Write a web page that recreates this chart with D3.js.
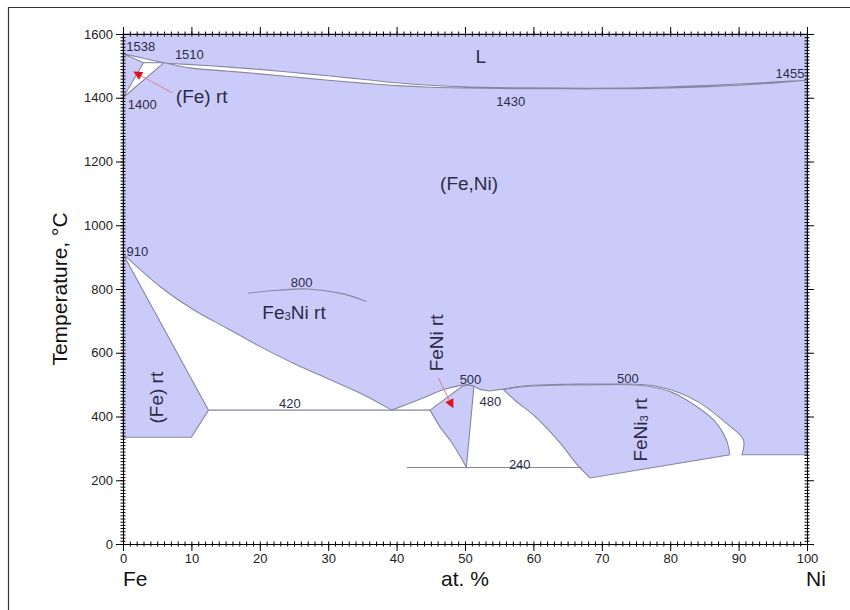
<!DOCTYPE html>
<html>
<head>
<meta charset="utf-8">
<script src="https://cdn.jsdelivr.net/npm/d3@7"></script>
<style>
  body { margin: 0; background: #fff; }
  svg { display: block; }
  text { font-family: "Liberation Sans", Arial, sans-serif; }
</style>
</head>
<body>
<svg id="chart" width="850" height="610"></svg>
<script>
// Fe–Ni phase diagram: composition in at.% Ni, temperature in °C.

const xTicks = [0, 10, 20, 30, 40, 50, 60, 70, 80, 90, 100];
const yTicks = [0, 200, 400, 600, 800, 1000, 1200, 1400, 1600];

// Liquid / (Fe,Ni) two-phase lens
const liquidus = [[0, 1538], [3, 1524], [6, 1510], [10, 1504], [15, 1497], [20, 1489], [25, 1479], [30, 1469],
  [35, 1458], [40, 1447], [45, 1439], [50, 1434], [55, 1432], [60, 1431], [68, 1430], [75, 1431],
  [80, 1434], [85, 1438], [90, 1443], [95, 1449], [100, 1455]];
const solidus = [[6, 1510], [10, 1493], [15, 1484], [20, 1475], [25, 1465], [30, 1455], [35, 1446],
  [40, 1438], [45, 1433], [50, 1430.5], [55, 1429], [60, 1428.5], [68, 1428], [75, 1428.5],
  [80, 1430.5], [85, 1434], [90, 1439], [95, 1446], [100, 1455]];
// delta-iron corner: peritectic at 1510, delta/gamma transition of pure Fe at 1400
const deltaCorner = [[6, 1510], [0, 1400], [3, 1510], [0, 1538]];
const peritectic = [[3, 1510], [6, 1510]];

// low-temperature boundaries
const gammaAlphaSolvus = [[0, 910], [5.4, 808], [10.3, 735], [15.2, 677], [20, 620], [24.9, 567],
  [29.8, 520], [34.7, 473], [39.3, 420]];
const alphaSolvus = [[0, 910], [12.5, 420]];
const feRegionBase = [[12.5, 420], [10, 335], [0, 335]];
const gammaFeNiSolvus = [[39.3, 420], [43.5, 455], [46.8, 484], [49, 496], [50.5, 500]];
const gammaNotch = [[50.5, 500], [51.3, 495], [52.2, 485], [53.5, 480], [55.6, 486], [57.5, 493]];
const gammaFeNi3Solvus = [[57.5, 493], [60, 498], [65, 501], [70, 502], [74, 501.5], [78, 495],
  [81.5, 473], [84.4, 442], [88.2, 379], [90.7, 327], [90.5, 280]];
const gammaBase = [[90.5, 280], [100, 280]];

const feNiTop = [[44.9, 420], [49.6, 495], [50.5, 499], [51.3, 494], [50.2, 240]];
const feNiBase = [[50.2, 240], [49.3, 275], [48.1, 317], [46.3, 369], [44.9, 420]];

const feNi3Top = [[55.6, 484], [57.5, 491], [60, 495.5], [65, 499], [70, 500], [74, 499.5], [77, 494],
  [80, 478], [82.4, 452], [86.3, 390], [88.2, 327], [88.7, 280]];
const feNi3Base = [[88.7, 280], [68.3, 207]];
const feNi3Left = [[68.3, 207], [66.2, 254], [63.9, 317], [60, 405], [57.5, 447], [55.6, 484]];

const tie420 = [[12.5, 420], [44.9, 420]];
const tie240 = [[41.5, 240], [67, 240]];
const magneticArc = [[18.3, 787], [22.7, 796], [27, 800], [31.7, 787], [35.6, 761]];

// annotations: text, composition, temperature, size, rotation
const labels = [
  { t: "L", x: 52.3, T: 1531, s: 19 },
  { t: "1538", x: 2.6, T: 1562, s: 13 },
  { t: "1510", x: 9.7, T: 1537, s: 13 },
  { t: "1400", x: 2.8, T: 1381, s: 13 },
  { t: "(Fe) rt", x: 11.5, T: 1405, s: 19 },
  { t: "1430", x: 56.7, T: 1390, s: 13 },
  { t: "1455", x: 97.5, T: 1478, s: 13 },
  { t: "(Fe,Ni)", x: 50.6, T: 1133, s: 19 },
  { t: "910", x: 2.1, T: 918, s: 13 },
  { t: "800", x: 26.1, T: 821, s: 13 },
  { t: "Fe|3|Ni rt", x: 25, T: 727, s: 19 },
  { t: "(Fe) rt", x: 4.8, T: 459, s: 19, r: -90 },
  { t: "420", x: 24.4, T: 443, s: 13 },
  { t: "FeNi rt", x: 45.8, T: 631, s: 19, r: -90 },
  { t: "500", x: 50.8, T: 518, s: 13 },
  { t: "480", x: 53.7, T: 449, s: 13 },
  { t: "500", x: 73.8, T: 521, s: 13 },
  { t: "FeNi|3| rt", x: 75.6, T: 358, s: 19, r: -90 },
  { t: "240", x: 58, T: 252, s: 13 }
];
const pointers = [
  { from: [7.2, 1416], to: [1.5, 1482] },
  { from: [46.1, 521], to: [48.3, 426] }
];

const svg = d3.select("#chart");
const x = d3.scaleLinear().domain([0, 100]).range([123, 807]);
const y = d3.scaleLinear().domain([0, 1600]).range([544, 34]);

const LAV = "#cbcbfa", EDGE = "#8787a3", INK = "#2c2c48";
const smooth = d3.curveCatmullRom.alpha(0.5), straight = d3.curveLinear;
const gen = c => d3.line().x(d => x(d[0])).y(d => y(d[1])).curve(c);
const rev = a => a.slice().reverse();

// join several boundary pieces into one closed outline
function outline(parts) {
  return parts.map((p, i) => {
    const s = gen(p[1])(p[0]);
    return i === 0 ? s : s.replace(/^M/, "L");
  }).join("") + "Z";
}

// outer frame
svg.append("path").attr("d", "M8.5,610V7.5H850").attr("fill", "none")
  .attr("stroke", "#333").attr("stroke-width", 1.2);

const regions = svg.append("g");

// liquid + (Fe,Ni) solid solution
regions.append("path")
  .attr("d", outline([
    [[[0, 910], [0, 1600], [100, 1600], [100, 280]], straight],
    [rev(gammaBase), straight],
    [rev(gammaFeNi3Solvus), smooth],
    [rev(gammaNotch), straight],
    [rev(gammaFeNiSolvus), smooth],
    [rev(gammaAlphaSolvus), smooth]
  ]))
  .attr("fill", LAV).attr("stroke", EDGE).attr("stroke-width", 1.1);

// (Fe) rt
regions.append("path")
  .attr("d", outline([[alphaSolvus, straight], [feRegionBase, straight]]))
  .attr("fill", LAV).attr("stroke", EDGE).attr("stroke-width", 1.1);

// FeNi rt
regions.append("path")
  .attr("d", outline([[feNiTop, straight], [feNiBase, smooth]]))
  .attr("fill", LAV).attr("stroke", EDGE).attr("stroke-width", 1.1);

// FeNi3 rt
regions.append("path")
  .attr("d", outline([[feNi3Top, smooth], [feNi3Base, straight], [feNi3Left, smooth]]))
  .attr("fill", LAV).attr("stroke", EDGE).attr("stroke-width", 1.1);

// melting lens and delta corner (two-phase, unfilled)
regions.append("path")
  .attr("d", outline([[liquidus, smooth], [rev(solidus), smooth], [deltaCorner, straight]]))
  .attr("fill", "#fff").attr("stroke", EDGE).attr("stroke-width", 1.1);

// tie lines and magnetic transition
[[peritectic, straight], [tie420, straight], [tie240, straight], [magneticArc, smooth]].forEach(([pts, c]) => {
  regions.append("path").attr("d", gen(c)(pts)).attr("fill", "none")
    .attr("stroke", EDGE).attr("stroke-width", 1.1);
});

// pointer lines with red heads
pointers.forEach(p => {
  const x1 = x(p.from[0]), y1 = y(p.from[1]), x2 = x(p.to[0]), y2 = y(p.to[1]);
  const a = Math.atan2(y2 - y1, x2 - x1), L = 9, W = 4.5;
  const bx = x2 - L * Math.cos(a), by = y2 - L * Math.sin(a);
  svg.append("line").attr("x1", x1).attr("y1", y1).attr("x2", bx).attr("y2", by)
    .attr("stroke", "#d98c9c").attr("stroke-width", 1.1);
  svg.append("path")
    .attr("d", `M${x2},${y2}L${bx + W * Math.sin(a)},${by - W * Math.cos(a)}L${bx - W * Math.sin(a)},${by + W * Math.cos(a)}Z`)
    .attr("fill", "#e3101e");
});

// labels ("|" marks a subscript run)
labels.forEach(l => {
  const px = x(l.x), py = y(l.T);
  const t = svg.append("text")
    .attr("transform", `translate(${px},${py})` + (l.r ? ` rotate(${l.r})` : ""))
    .attr("text-anchor", "middle").attr("dominant-baseline", "central")
    .attr("font-size", l.s).attr("fill", INK);
  const parts = l.t.split("|");
  parts.forEach((s, i) => {
    if (!s) return;
    const sub = i % 2 === 1;
    t.append("tspan").text(s)
      .attr("font-size", sub ? l.s * 0.6 : l.s)
      .attr("dy", sub ? 4 : (i > 0 ? -4 : 0));
  });
});

// axes: majors outward with labels, minors crossing the frame
const axisStyle = g => {
  g.selectAll("text").attr("font-size", 13).attr("fill", "#222")
    .attr("font-family", "'Liberation Sans', Arial, sans-serif");
  g.select(".domain").attr("stroke", "#000");
  g.selectAll(".tick line").attr("stroke", "#000");
};
const minorStyle = g => {
  g.select(".domain").remove();
  g.selectAll(".tick line").attr("stroke", "#000");
};
const xMinor = d3.range(0, 101, 1), yMinor = d3.range(0, 1601, 10);
const plain = d3.format("d");

svg.append("g").attr("transform", `translate(${x(0)},0)`)
  .call(d3.axisLeft(y).tickValues(yTicks).tickFormat(plain).tickSize(7).tickSizeOuter(0).tickPadding(3)).call(axisStyle);
svg.append("g").attr("transform", `translate(0,${y(0)})`)
  .call(d3.axisBottom(x).tickValues(xTicks).tickFormat(plain).tickSize(7).tickSizeOuter(0).tickPadding(3)).call(axisStyle);
svg.append("g").attr("transform", `translate(0,${y(1600)})`)
  .call(d3.axisTop(x).tickValues(xTicks).tickSize(7).tickSizeOuter(0).tickFormat("")).call(axisStyle);
svg.append("g").attr("transform", `translate(${x(100)},0)`)
  .call(d3.axisRight(y).tickValues(yTicks).tickSize(7).tickSizeOuter(0).tickFormat("")).call(axisStyle);

svg.append("g").attr("transform", `translate(${x(0) + 2.5},0)`)
  .call(d3.axisLeft(y).tickValues(yMinor).tickSize(5).tickFormat("")).call(minorStyle);
svg.append("g").attr("transform", `translate(${x(100) - 2.5},0)`)
  .call(d3.axisRight(y).tickValues(yMinor).tickSize(5).tickFormat("")).call(minorStyle);
svg.append("g").attr("transform", `translate(0,${y(0) - 2.5})`)
  .call(d3.axisBottom(x).tickValues(xMinor).tickSize(5).tickFormat("")).call(minorStyle);
svg.append("g").attr("transform", `translate(0,${y(1600) + 2.5})`)
  .call(d3.axisTop(x).tickValues(xMinor).tickSize(5).tickFormat("")).call(minorStyle);

// axis titles
svg.append("text").attr("transform", `translate(59,${y(800)}) rotate(-90)`)
  .attr("text-anchor", "middle").attr("dominant-baseline", "central")
  .attr("font-size", 21).attr("fill", "#111").text("Temperature, °C");
svg.append("text").attr("x", x(0)).attr("y", 586).attr("font-size", 21).attr("fill", "#111").text("Fe");
svg.append("text").attr("x", x(50)).attr("y", 586).attr("text-anchor", "middle")
  .attr("font-size", 21).attr("fill", "#111").text("at. %");
svg.append("text").attr("x", x(100) - 1).attr("y", 586).attr("font-size", 21).attr("fill", "#111").text("Ni");
</script>
</body>
</html>
